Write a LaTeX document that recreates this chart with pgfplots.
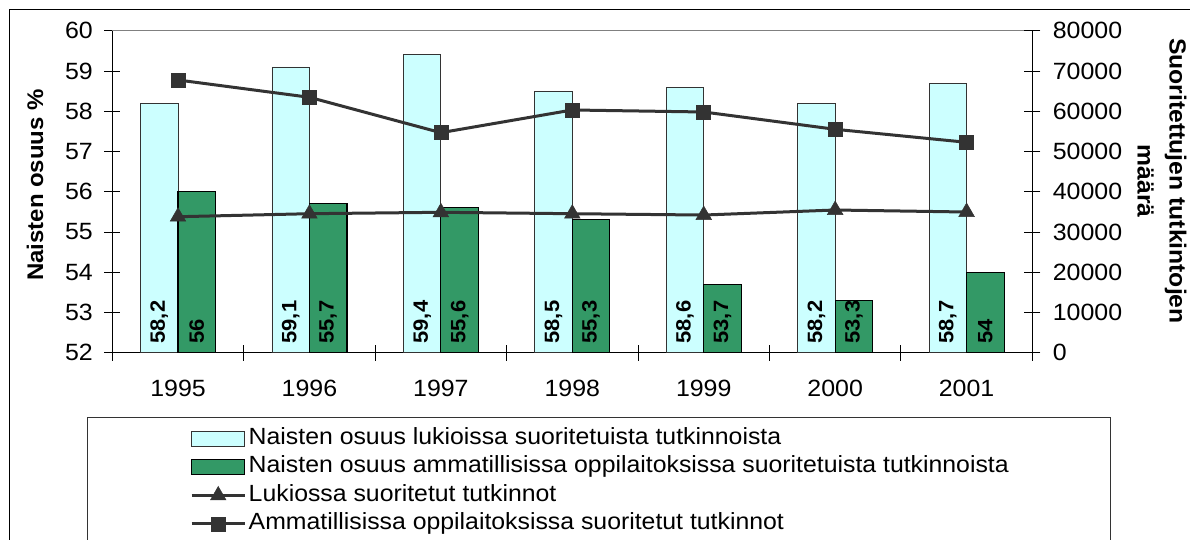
\documentclass[border=0pt]{standalone}
\usepackage{pgfplots}
\usepackage{pgfplotstable}
\pgfplotsset{compat=1.18}
\usepackage{fontspec}
\setmainfont{Liberation Sans}[FakeStretch=1.06]
\definecolor{lcyan}{HTML}{CCFFFF}
\definecolor{dgreen}{HTML}{339966}
\definecolor{lgray}{HTML}{333333}
\pgfplotsset{
  barlegA/.style={legend image code/.code={\draw[fill=lcyan,draw=black!80,line width=0.8bp] (0bp,-7.5bp) rectangle (53bp,7.5bp);}},
  barlegB/.style={legend image code/.code={\draw[fill=dgreen,draw=black,line width=1.2bp] (0bp,-7.5bp) rectangle (53bp,7.5bp);}},
  linleg/.style={legend image code/.code={\draw[mark repeat=2,mark phase=2,##1] plot coordinates {(0bp,0bp)(26.5bp,0bp)(53bp,0bp)};}},
}
\pgfplotstableread{
x y lab
-0.1427 52 58,2
0.8573 52 59,1
1.8573 52 59,4
2.8573 52 58,5
3.8573 52 58,6
4.8573 52 58,2
5.8573 52 58,7
0.1427 52 56
1.1427 52 55,7
2.1427 52 55,6
3.1427 52 55,3
4.1427 52 53,7
5.1427 52 53,3
6.1427 52 54
}\labtable
\begin{document}
\begin{tikzpicture}[x=1bp,y=1bp]
\useasboundingbox (0,0) rectangle (1190,540);
\draw[black, line width=1bp] (9.6,-20) -- (9.6,530) -- (1210,530);
\begin{axis}[name=ax1, at={(112.3bp,187.3bp)}, anchor=south west,
  scale only axis, width=920bp, height=322bp,
  xmin=-0.5, xmax=6.5, ymin=52, ymax=60,
  axis x line*=bottom, axis y line*=left,
  axis line style={-, black, line width=1bp},
  xtick={-0.5,0.5,1.5,2.5,3.5,4.5,5.5,6.5}, xticklabels={,,,,,,,},
  extra x ticks={0,1,2,3,4,5,6},
  extra x tick labels={1995,1996,1997,1998,1999,2000,2001},
  extra x tick style={major tick length=0pt},
  ytick={52,53,...,60},
  tick align=center, major tick length=16bp,
  tick style={black, line width=0.8bp},
  tick label style={font=\fontsize{23.6}{26}\selectfont, /pgf/number format/assume math mode=true},
  yticklabel style={xshift=-8bp},
  xticklabel style={yshift=-23.5bp},
  clip=true,
]
\addplot[ybar, bar width=0.2854, bar shift=-0.1427, fill=lcyan, draw=black!80, line width=0.8bp]
  coordinates {(0,58.2) (1,59.1) (2,59.4) (3,58.5) (4,58.6) (5,58.2) (6,58.7)};
\addplot[ybar, bar width=0.2854, bar shift=0.1427, fill=dgreen, draw=black, line width=1.2bp]
  coordinates {(0,56) (1,55.7) (2,55.6) (3,55.3) (4,53.7) (5,53.3) (6,54)};
\addplot[draw=none, mark=none, nodes near coords, point meta=explicit symbolic,
  every node near coord/.style={rotate=90, anchor=west, inner xsep=9bp, inner ysep=0pt,
  font=\fontsize{20.8}{24}\selectfont\bfseries, text=black}]
  table[x=x, y=y, meta=lab] {\labtable};
\end{axis}
\draw[gray, line width=1bp] (ax1.north west) -- (ax1.north east);
\begin{axis}[at={(112.3bp,187.3bp)}, anchor=south west,
  scale only axis, width=920bp, height=322bp,
  xmin=-0.5, xmax=6.5, ymin=0, ymax=80000,
  axis x line=none, axis y line*=right,
  axis line style={-, black, line width=1bp},
  ytick={0,10000,...,80000}, scaled y ticks=false,
  tick align=center, major tick length=16bp,
  tick style={black, line width=0.8bp},
  yticklabel style={font=\fontsize{23.6}{26}\selectfont, /pgf/number format/assume math mode=true,
    /pgf/number format/set thousands separator={}, xshift=9bp},
  legend cell align=left,
  legend style={at={(0.0845,-0.2215)}, anchor=north west, draw=none, fill=none,
    inner sep=0pt, row sep=0pt, column sep=0pt,
    font=\fontsize{23.5}{26}\selectfont,
    nodes={inner xsep=2.5bp, inner ysep=3.5bp, text height=16.5bp, text depth=5bp}},
]
\addlegendimage{barlegA}
\addlegendentry{Naisten osuus lukioissa suoritetuista tutkinnoista}
\addlegendimage{barlegB}
\addlegendentry{Naisten osuus ammatillisissa oppilaitoksissa suoritetuista tutkinnoista}
\addplot[color=lgray, line width=3bp, mark=triangle*, mark size=9bp, mark options={solid, fill=lgray, line width=0.5bp}, linleg]
  coordinates {(0,33780) (1,34530) (2,34880) (3,34530) (4,34200) (5,35450) (6,34950)};
\addlegendentry{Lukiossa suoritetut tutkinnot}
\addplot[color=lgray, line width=3bp, mark=square*, mark size=7bp, mark options={solid, fill=lgray, line width=0.5bp}, linleg]
  coordinates {(0,67750) (1,63450) (2,54660) (3,60300) (4,59800) (5,55500) (6,52270)};
\addlegendentry{Ammatillisissa oppilaitoksissa suoritetut tutkinnot}
\end{axis}
\node[rotate=90, font=\fontsize{22.7}{26}\selectfont\bfseries] at (35,355) {Naisten osuus \%};
\node[rotate=-90, align=center, font=\fontsize{23.4}{32}\selectfont\bfseries] at (1162,359) {Suoritettujen tutkintojen\\määrä};
\draw[black!80, line width=1bp] (87,-20) -- (87,122) -- (1110,122) -- (1110,-20);
\end{tikzpicture}
\end{document}
